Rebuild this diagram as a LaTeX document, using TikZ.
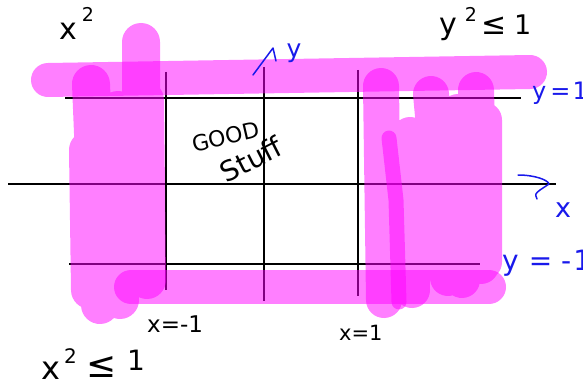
\documentclass[tikz,border=0pt]{standalone}
\usepackage{fontspec}
\setmainfont{DejaVu Sans}
\definecolor{inkblue}{RGB}{25,25,235}
\definecolor{marker}{RGB}{255,0,255}

\begin{document}
\begin{tikzpicture}[x=1pt,y=-1pt]
\tikzset{
  gridline/.style={line width=1.2pt,black},
  hilite/.style={line width=#1,line cap=round,line join=round,draw=marker,opacity=0.5},
  blackpen/.style={inner sep=0pt,black,anchor=base west},
  bluepen/.style={inner sep=0pt,inkblue},
  bluestroke/.style={line width=1.5pt,inkblue,line cap=round,line join=round}
}
\newcommand\fs[1]{\fontsize{#1}{#1}\selectfont}
\useasboundingbox (0,0) rectangle (583,385);
% grid lines
\draw[gridline] (65,98) -- (521,98);
\draw[gridline] (8,184) -- (556,184);
\draw[gridline] (69,264) -- (480,264);
\draw[gridline] (166,72) -- (166,290);
\draw[gridline] (264,67) -- (264,301);
\draw[gridline] (358,70) -- (358,296);
% marker strokes
\draw[hilite=34pt] (48,80) -- (530,72);
\draw[hilite=34pt] (131,287) -- (489,287);
\draw[hilite=38pt] (91,84) -- (100,305) (141,42) -- (141,200) (145,100) -- (147,280)
  (118,110) -- (120,300) (88,150) -- (90,290);
\draw[hilite=36pt] (381,86) -- (384,300) (431,94) -- (448,278) (476,90) -- (481,266)
  (484,120) -- (484,262) (410,135) -- (412,290) (458,112) -- (462,280);
\draw[hilite=15pt] (389,138) -- (396,200) -- (399,302);
% labels
\node[blackpen,font=\fs{30}] (xsq) at (59,40) {x\hspace{5pt}\raisebox{18pt}{\fs{19}2}};
\node[blackpen,font=\fs{30}] (ybound) at (439,35)
  {y\hspace{8pt}\raisebox{13pt}{\fs{19}2}\hspace{4pt}{\fs{30}≤}\hspace{8pt}{\fs{27}1}};
\node[blackpen,font=\fs{32}] (xbound) at (41,379)
  {x\hspace{4pt}\raisebox{16pt}{\fs{20}2}\hspace{10pt}\raisebox{2pt}{\fs{36}≤}\hspace{10pt}\raisebox{9pt}{\fs{28}1}};
\node[blackpen,font=\fs{23}] (xmone) at (147,332) {x=-1};
\node[blackpen,font=\fs{21}] (xone) at (339,340) {x=1};
\node[blackpen,font=\fs{22},anchor=center,rotate=13] (good) at (226,137) {GOOD};
\node[blackpen,font=\fs{28},anchor=center,rotate=27] (stuff) at (251,159) {Stuff};
\node[bluepen,font=\fs{25}] (ylab) at (294,53) {y};
\node[bluepen,font=\fs{27}] (xlab) at (563,210) {x};
\node[bluepen,font=\fs{24},anchor=base west] (yone) at (532,100)
  {y\hspace{4pt}=\hspace{2pt}1};
\node[bluepen,font=\fs{28},anchor=base west] (ymone) at (502,270)
  {y\hspace{10pt}=\hspace{9pt}-\hspace{2pt}1};
% axis arrow heads
\draw[bluestroke] (253,75) -- (273,48) -- (276,61);
\draw[bluestroke] (518,175) .. controls (535,175) and (548,180) .. (549,184)
  -- (540,190) .. controls (535,194) .. (537,199);
\end{tikzpicture}
\end{document}
